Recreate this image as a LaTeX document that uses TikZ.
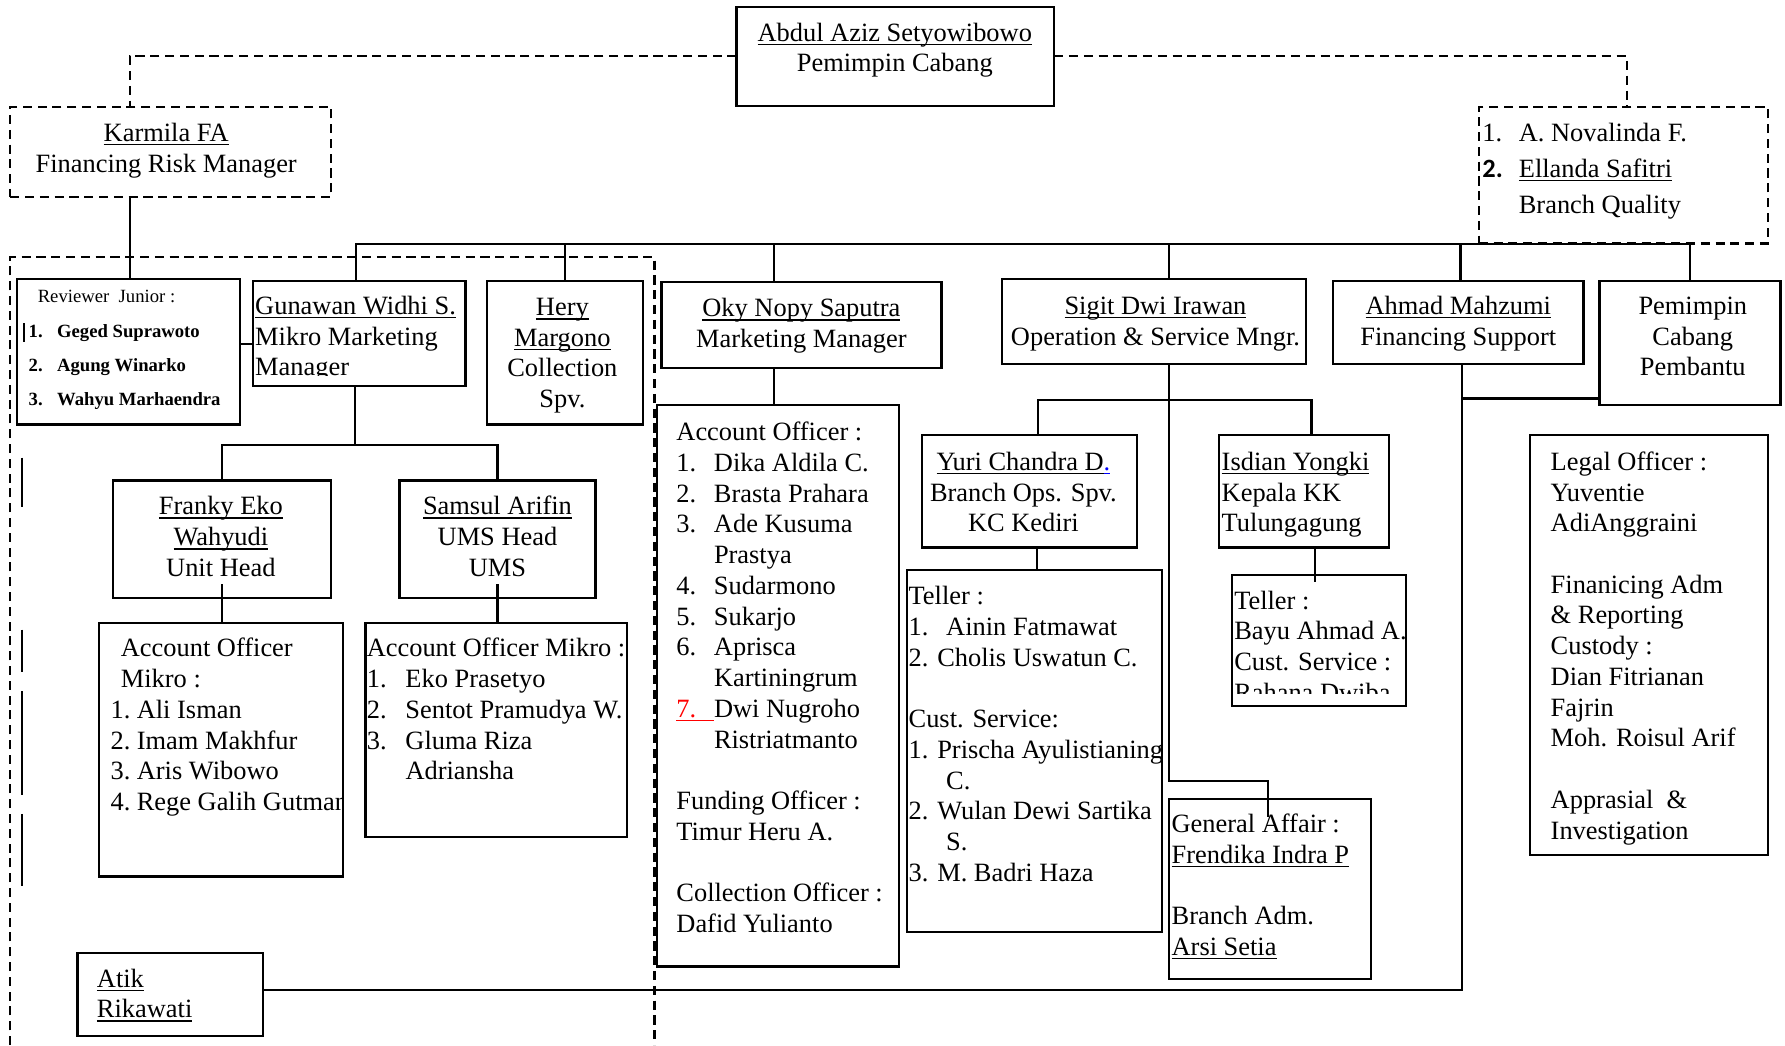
\documentclass[tikz,border=0pt]{standalone}
\usepackage{fontspec}
\setmainfont{Liberation Serif}
\newfontfamily\carlito{Carlito}
\newsavebox\myulbox
\newcommand\uline[1]{\sbox\myulbox{#1}\rlap{\rule[-3.6pt]{\wd\myulbox}{1.4pt}}\usebox\myulbox}
\newcommand\msz{\fontsize{23.2}{27}\selectfont}
\newcommand\ssz{\fontsize{16.4}{30}\selectfont}
\newcommand\numbx[2]{\makebox[#1][l]{#2}}
\begin{document}
\begin{tikzpicture}[x=1pt,y=-1pt,
 bx/.style={draw, rectangle, line width=2pt, anchor=north west, inner sep=0pt, outer sep=0pt},
 dbx/.style={bx, dash pattern=on 8pt off 5pt},
 tl/.style={anchor=north west, inner sep=0pt, align=left, font=\msz},
 tcn/.style={anchor=north, inner sep=0pt, align=center, font=\msz},
 ln/.style={line width=1.9pt},
 dln/.style={line width=2pt, dash pattern=on 8pt off 5pt},
]
\useasboundingbox (0,0) rectangle (1568,918);
\fill[white] (0,0) rectangle (1568,918);

% ---------- boxes ----------
\node[bx, minimum width=279pt, minimum height=87pt] (abdul) at (647,6) {};
\node[dbx, minimum width=282pt, minimum height=79pt] (karmila) at (9,94) {};
\node[dbx, minimum width=254pt, minimum height=120pt] (bq) at (1299,94) {};
\node[bx, minimum width=196pt, minimum height=128pt] (rev) at (15,245) {};
\node[bx, minimum width=187pt, minimum height=92pt] (gun) at (222,247) {};
\node[bx, minimum width=137pt, minimum height=126pt] (hery) at (428,247) {};
\node[bx, minimum width=246pt, minimum height=75pt] (oky) at (581,248) {};
\node[bx, minimum width=267pt, minimum height=75pt] (sigit) at (880,245) {};
\node[bx, minimum width=220pt, minimum height=73pt] (ahm) at (1171,247) {};
\node[bx, minimum width=159pt, minimum height=109pt] (pcp) at (1405,247) {};
\node[bx, minimum width=192pt, minimum height=103pt] (fr) at (99,422) {};
\node[bx, minimum width=172pt, minimum height=103pt] (sam) at (351,422) {};
\node[bx, minimum width=214pt, minimum height=223pt] (aof) at (87,547) {};
\node[bx, minimum width=230pt, minimum height=188pt] (aos) at (321,547) {};
\node[bx, minimum width=163pt, minimum height=73pt] (atik) at (68,837) {};
\node[bx, minimum width=213pt, minimum height=493pt] (okyao) at (577,356) {};
\node[bx, minimum width=189pt, minimum height=99pt] (yuri) at (810,382) {};
\node[bx, minimum width=224pt, minimum height=318pt] (tel) at (797,501) {};
\node[bx, minimum width=149pt, minimum height=99pt] (isd) at (1071,382) {};
\node[bx, minimum width=153pt, minimum height=115pt] (tel2) at (1082,505) {};
\node[bx, minimum width=177pt, minimum height=158pt] (ga) at (1027,702) {};
\node[bx, minimum width=209pt, minimum height=369pt] (legal) at (1344,382) {};

% ---------- texts ----------
\node[tcn] (abdul-t) at (786,17) {\strut\uline{Abdul Aziz Setyowibowo}\\Pemimpin Cabang};
\node[tcn] (karmila-t) at (146,105) {\strut\uline{Karmila FA}\\Financing Risk Manager};
\node[tl, font={\fontsize{23.2}{31.5}\selectfont}] (bq-t) at (1302,102)
  {\strut\numbx{32pt}{1.}A. Novalinda F.\\\numbx{32pt}{\carlito\bfseries 2.}\uline{Ellanda Safitri}\\\hspace*{32pt}Branch Quality};
\node[anchor=base west, inner sep=0pt, font=\ssz] (rev-h) at (33,266) {Reviewer\ \ Junior :};
\node[tl, font={\ssz\bfseries}] (rev-t) at (25,275)
  {\strut\numbx{25pt}{1.}Geged Suprawoto\\\numbx{25pt}{2.}Agung Winarko\\\numbx{25pt}{3.}Wahyu Marhaendra};
\begin{scope}
\clip (222,247) rectangle (409,330);
\node[tl] (gun-t) at (224,257) {\strut\uline{Gunawan Widhi S.}\\Mikro Marketing\\Manager};
\end{scope}
\node[tcn] (hery-t) at (494,258) {\strut\uline{Hery}\\\uline{Margono}\\Collection\\Spv.};
\node[tcn] (oky-t) at (704,259) {\strut\uline{Oky Nopy Saputra}\\Marketing Manager};
\node[tcn] (sigit-t) at (1015,257) {\strut\uline{Sigit Dwi Irawan}\\Operation \& Service Mngr.};
\node[tcn] (ahm-t) at (1281,257) {\strut\uline{Ahmad Mahzumi}\\Financing Support};
\node[tcn] (pcp-t) at (1487,257) {\strut Pemimpin\\Cabang\\Pembantu};
\node[tcn] (fr-t) at (194,433) {\strut\uline{Franky Eko}\\\uline{Wahyudi}\\Unit Head};
\node[tcn] (sam-t) at (437,433) {\strut\uline{Samsul Arifin}\\UMS Head\\UMS};
\begin{scope}
\clip (87,547) rectangle (300,770);
\node[tl] (aof-t) at (97,558) {\strut\hspace*{9pt}Account Officer\\\hspace*{9pt}Mikro :\\\numbx{23pt}{1.}Ali Isman\\\numbx{23pt}{2.}Imam Makhfur\\\numbx{23pt}{3.}Aris Wibowo\\\numbx{23pt}{4.}Rege Galih Gutman};
\end{scope}
\node[tl] (aos-t) at (322,558) {\strut Account Officer Mikro :\\\numbx{34pt}{1.}Eko Prasetyo\\\numbx{34pt}{2.}Sentot Pramudya W.\\\numbx{34pt}{3.}Gluma Riza\\\hspace*{34pt}Adriansha};
\node[tl] (atik-t) at (85,848) {\strut\uline{Atik}\\\uline{Rikawati}};
\node[tl] (okyao-t) at (594,368) {\strut Account Officer :\\\numbx{33pt}{1.}Dika Aldila C.\\\numbx{33pt}{2.}Brasta Prahara\\\numbx{33pt}{3.}Ade Kusuma\\\hspace*{33pt}Prastya\\\numbx{33pt}{4.}Sudarmono\\\numbx{33pt}{5.}Sukarjo\\\numbx{33pt}{6.}Aprisca\\\hspace*{33pt}Kartiningrum\\\textcolor{red}{\uline{\makebox[33pt][l]{7.}}}Dwi Nugroho\\\hspace*{33pt}Ristriatmanto\\[27pt]Funding Officer :\\Timur Heru A.\\[27pt]Collection Officer :\\Dafid Yulianto};
\node[tcn] (yuri-t) at (899,394) {\strut\uline{Yuri Chandra D}\textcolor{blue}{\uline{.}}\\Branch Ops. Spv.\\KC Kediri};
\begin{scope}
\clip (797,501) rectangle (1021,819);
\node[tl] (tel-t) at (798,512) {\strut Teller :\\\numbx{33pt}{1.}Ainin Fatmawat\\2. Cholis Uswatun C.\\[27pt]Cust. Service:\\1. Prischa Ayulistianing\\\hspace*{33pt}C.\\2. Wulan Dewi Sartika\\\hspace*{33pt}S.\\3. M. Badri Haza};
\end{scope}
\node[tl] (isd-t) at (1073,394) {\strut\uline{Isdian Yongki}\\Kepala KK\\Tulungagung};
\begin{scope}
\clip (1082,505) rectangle (1234,609);
\node[tl] (tel2-t) at (1084,516) {\strut Teller :\\Bayu Ahmad A.\\Cust. Service :\\Rahana Dwiba};
\end{scope}
\begin{scope}
\clip (1027,702) rectangle (1204,852);
\node[tl] (ga-t) at (1029,712) {\strut General Affair :\\\uline{Frendika Indra P}\\[27pt]Branch Adm.\\\uline{Arsi Setia}};
\end{scope}
\node[tl] (legal-t) at (1362,394) {\strut Legal Officer :\\Yuventie\\AdiAnggraini\\[27pt]Finanicing Adm\\\& Reporting\\Custody :\\Dian Fitrianan\\Fajrin\\Moh. Roisul Arif\\[27pt]Apprasial\ \ \&\\Investigation};

% ---------- connectors ----------
\coordinate (bus) at (0,214);
\coordinate (sbus) at (0,351);
\coordinate (gbus) at (0,391);

\draw[dln] (abdul.west) -| ([xshift=105pt]karmila.north west);
\draw[dln] (abdul.east) -| ([xshift=130pt]bq.north west);
\draw[ln] ([xshift=105pt]karmila.south west) -- ([xshift=99pt]rev.north west);

\coordinate (gunT) at ([xshift=91pt]gun.north west);
\draw[ln] (gunT) -- (gunT |- bus) -- (pcp.north |- bus) -- (pcp.north);
\draw[ln] (hery.north) -- (hery.north |- bus);
\coordinate (okyT) at ([xshift=99pt]oky.north west);
\coordinate (okyB) at ([xshift=99pt]oky.south west);
\draw[ln] (okyT) -- (okyT |- bus);
\draw[ln] (okyB) -- (okyB |- okyao.north);
\coordinate (sigT) at ([xshift=147pt]sigit.north west);
\coordinate (sigB) at ([xshift=147pt]sigit.south west);
\draw[ln] (sigT) -- (sigT |- bus);
\coordinate (gaJ) at ([xshift=87pt,yshift=16pt]ga.north west);
\coordinate (gaE) at ([xshift=87pt,yshift=-16pt]ga.north west);
\draw[ln] (sigB) |- (gaJ) -- (gaE);
\coordinate (ahT) at ([xshift=112pt]ahm.north west);
\draw[ln] (ahT) -- (ahT |- bus);

\coordinate (yuriT) at ([xshift=102pt]yuri.north west);
\coordinate (isdT) at ([xshift=81pt]isd.north west);
\draw[ln] (yuriT) -- (yuriT |- sbus) -- (isdT |- sbus) -- (isdT);
\coordinate (yuriB) at ([xshift=101pt]yuri.south west);
\draw[ln] (yuriB) -- (yuriB |- tel.north);
\coordinate (isdB) at ([xshift=84pt]isd.south west);
\coordinate (t2T) at ([xshift=73pt,yshift=-6pt]tel2.north west);
\draw[ln] (isdB) -- (t2T);

\coordinate (gunB) at ([xshift=90pt]gun.south west);
\draw[ln] (gunB) -- (gunB |- gbus);
\draw[ln] (fr.north) -- (fr.north |- gbus) -- (sam.north |- gbus) -- (sam.north);
\draw[ln] ([yshift=12pt]fr.south) -- (fr.south |- aof.north);
\draw[ln] ([yshift=12pt]sam.south) -- (sam.south |- aos.north);

\coordinate (rg) at ([yshift=-57pt]rev.north east);
\draw[ln] (rg) -- (rg -| gun.west);
\coordinate (ahB) at ([xshift=113pt]ahm.south west);
\coordinate (atR) at ([yshift=-33pt]atik.north east);
\draw[ln] (ahB) |- (atR);
\coordinate (pcpL) at ([yshift=-103pt]pcp.north west);
\draw[ln] (pcpL) -- (pcpL -| ahB);

% big dashed frame
\draw[dln] (9,918) -- (9,226) -- (575,226) -- (575,918);

% stray bars
\draw[ln] (21,284) -- (21,300);
\draw[ln] (19,402) -- (19,445);
\draw[ln] (19,553) -- (19,590);
\draw[ln] (19,607) -- (19,698);
\draw[ln] (19,715) -- (19,778);
\end{tikzpicture}
\end{document}
